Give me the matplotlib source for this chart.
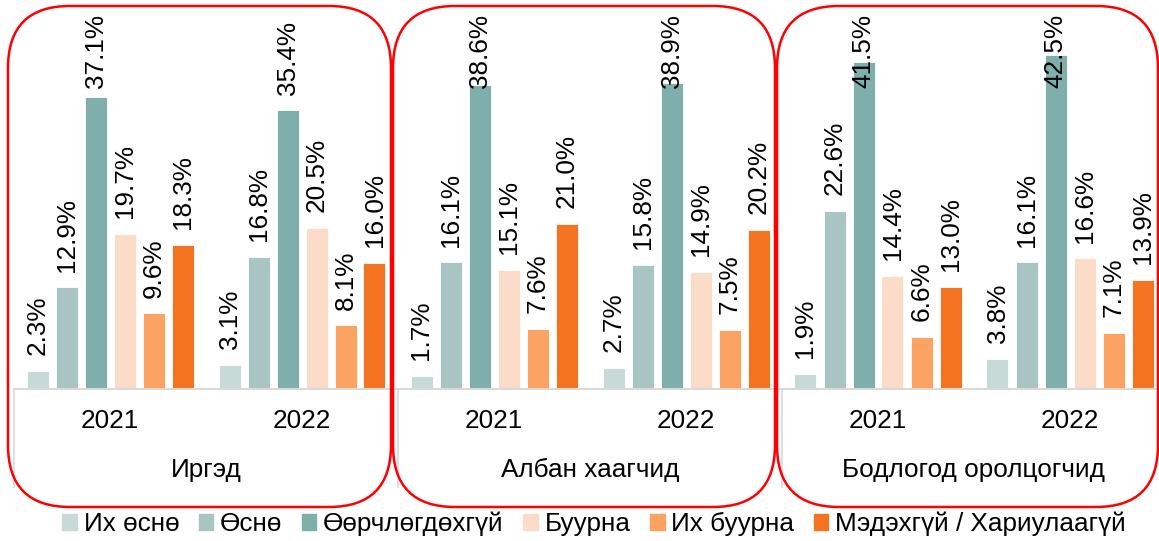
import matplotlib.pyplot as plt
from matplotlib.patches import FancyBboxPatch, Rectangle
from matplotlib.transforms import IdentityTransform
import numpy as np

plt.rcParams['font.family'] = ['Liberation Sans', 'DejaVu Sans']

# Өгөгдөл
ангилал = ["Их өснө", "Өснө", "Өөрчлөгдөхгүй", "Буурна", "Их буурна", "Мэдэхгүй / Хариулаагүй"]
бүлэг = ["Иргэд", "Албан хаагчид", "Бодлогод оролцогчид"]
он = ["2021", "2022"]

иргэд_2021 = [2.3, 12.9, 37.1, 19.7, 9.6, 18.3]
иргэд_2022 = [3.1, 16.8, 35.4, 20.5, 8.1, 16.0]
албан_2021 = [1.7, 16.1, 38.6, 15.1, 7.6, 21.0]
албан_2022 = [2.7, 15.8, 38.9, 14.9, 7.5, 20.2]
бодлого_2021 = [1.9, 22.6, 41.5, 14.4, 6.6, 13.0]
бодлого_2022 = [3.8, 16.1, 42.5, 16.6, 7.1, 13.9]

өнгө = ["#c8dad7", "#a9c5c3", "#7fafab", "#fbdcc8", "#fca262", "#f37321"]

бүх_утга = np.array([иргэд_2021, иргэд_2022, албан_2021, албан_2022, бодлого_2021, бодлого_2022])

W, H = 1159, 541
FS = 18.8
fig = plt.figure(figsize=(W / 100, H / 100), dpi=100)

px_per_grp = 192
ax_left, ax_right = 14, 14 + 6 * px_per_grp
base_y, top_y = 389, 389 - 48 * 7.87
ax = fig.add_axes([ax_left / W, (H - base_y) / H, (ax_right - ax_left) / W, (base_y - top_y) / H])

алхам = 29 / px_per_grp
өргөн = 22 / px_per_grp
for j in range(len(ангилал)):
    x = np.arange(6) + 0.5 + (j - 2.5) * алхам
    утга = бүх_утга[:, j]
    ax.bar(x, утга, width=өргөн, color=өнгө[j], edgecolor="white", linewidth=0.6)
    for xi, v in zip(x, утга):
        ax.text(xi, min(v + 2.0, 38.25), f"{v:.1f}%", rotation=90, ha="center", va="bottom",
                fontsize=FS, clip_on=False)

ax.set_xlim(0, 6)
ax.set_ylim(0, 48)
ax.set_yticks([])
ax.set_xticks([])
for s in ["top", "right", "left"]:
    ax.spines[s].set_visible(False)
ax.spines["bottom"].set_color("#d9d9d9")
ax.spines["bottom"].set_linewidth(1.5)

tr = ax.get_xaxis_transform()
ax_h = base_y - top_y
for xs in [0, 2, 4, 6]:
    ax.plot([xs, xs], [0, -(487 - base_y) / ax_h], color="#d9d9d9", lw=1.2, transform=tr, clip_on=False)
for i in range(6):
    ax.text(i + 0.5, -(421 - base_y) / ax_h, он[i % 2], transform=tr, ha="center", va="center", fontsize=FS)
for k, нэр in enumerate(бүлэг):
    ax.text(2 * k + 1, -(470 - base_y) / ax_h, нэр, transform=tr, ha="center", va="center", fontsize=FS)

# Улаан хүрээ
хүрээ = [(8, 391), (393, 775), (777, 1158)]
for x0, x1 in хүрээ:
    p = FancyBboxPatch((x0, H - 507), x1 - x0, 507 - 6, boxstyle="round,pad=0,rounding_size=62",
                       transform=IdentityTransform(), fill=False, edgecolor="#ff0000", linewidth=1.8)
    fig.add_artist(p)

handles = [Rectangle((0, 0), 1, 1, color=c) for c in өнгө]
fig.legend(handles, ангилал, loc="center", bbox_to_anchor=(594 / W, 1 - 524 / H), ncol=6, frameon=False,
           fontsize=FS, handlelength=0.56, handleheight=0.56, handletextpad=0.25, columnspacing=0.75,
           borderpad=0, borderaxespad=0)

fig.savefig("out.png", dpi=100)
